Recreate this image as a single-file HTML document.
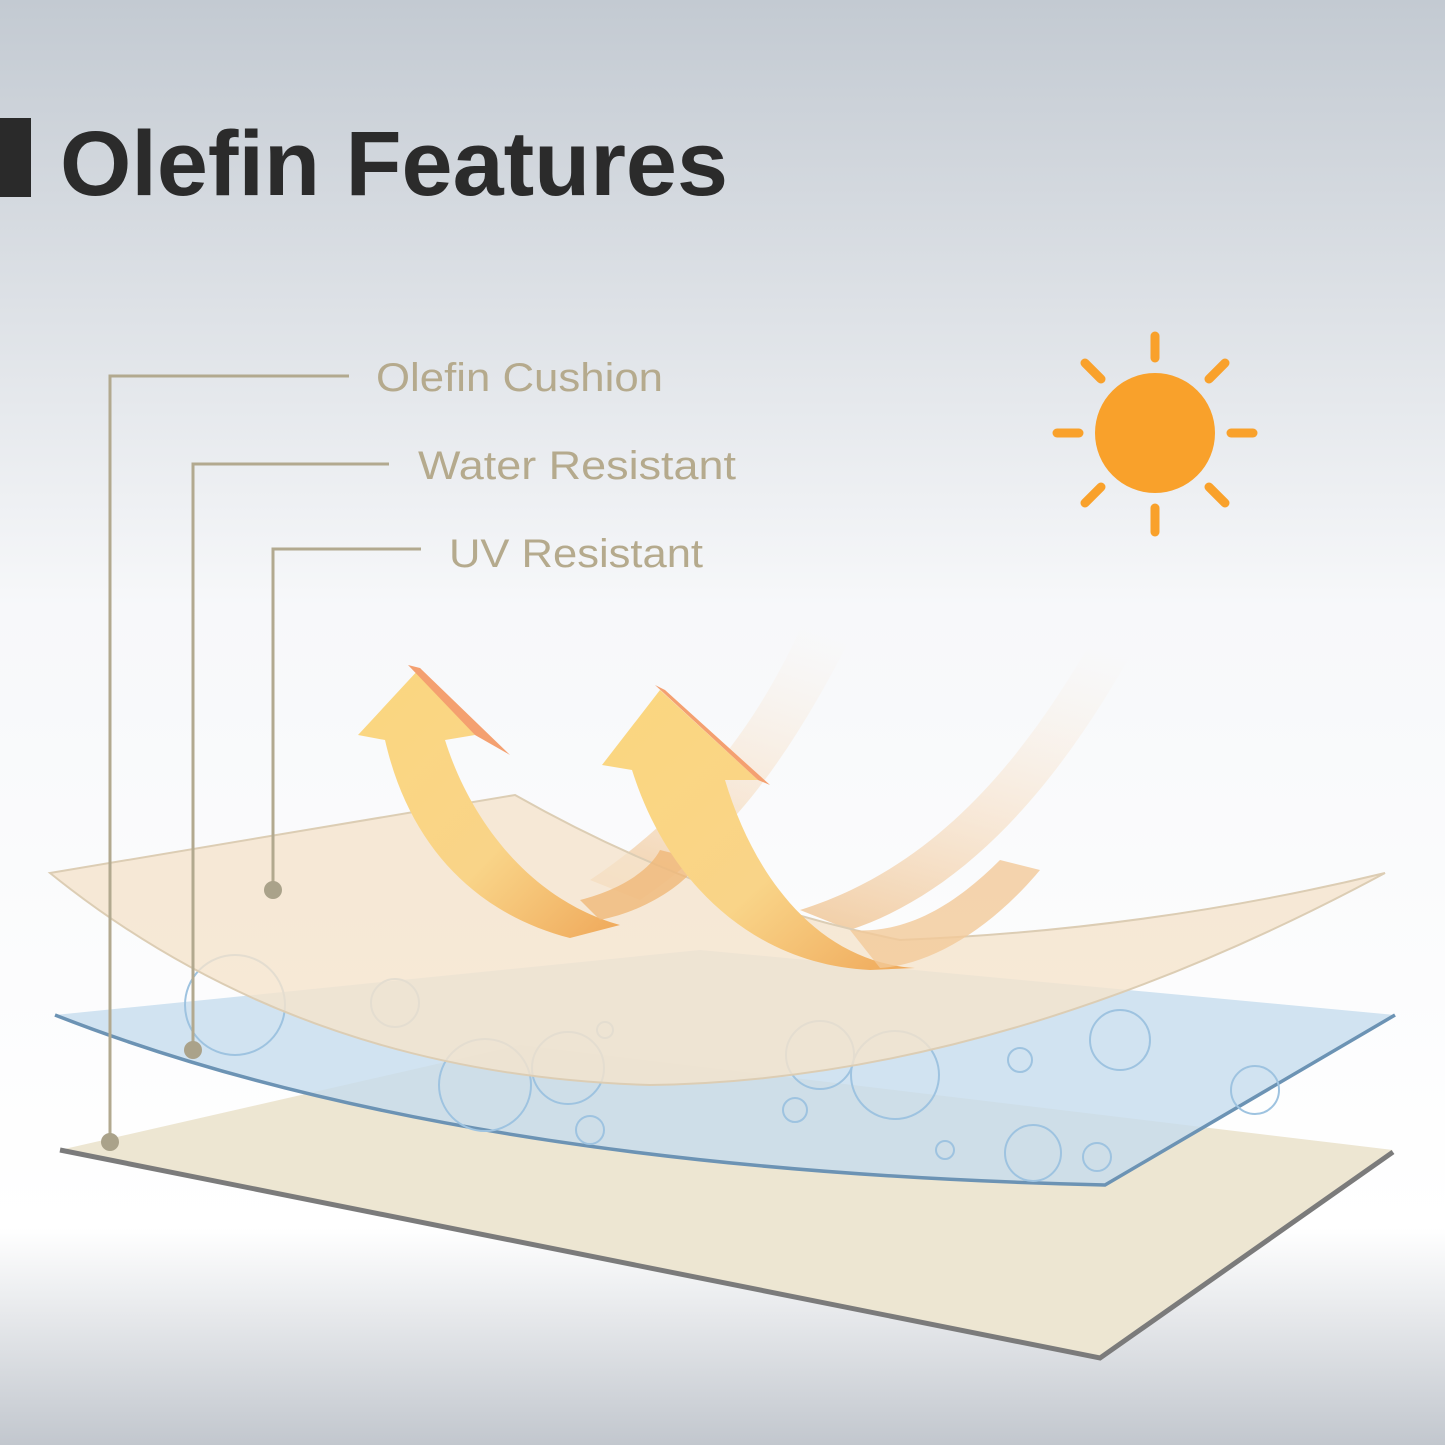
<!DOCTYPE html>
<html><head><meta charset="utf-8"><style>
html,body{margin:0;padding:0;width:1445px;height:1445px;overflow:hidden}
svg{display:block}
</style></head><body>
<svg width="1445" height="1445" viewBox="0 0 1445 1445" xmlns="http://www.w3.org/2000/svg">
<defs>
<linearGradient id="bg" x1="0" y1="0" x2="0" y2="1">
<stop offset="0" stop-color="#c3cad2"/>
<stop offset="0.42" stop-color="#f7f8fa"/>
<stop offset="0.85" stop-color="#ffffff"/>
<stop offset="1" stop-color="#c2c7ce"/>
</linearGradient>
<linearGradient id="streak" x1="0" y1="1" x2="0.3" y2="0">
<stop offset="0" stop-color="#f0c89a" stop-opacity="0.9"/>
<stop offset="1" stop-color="#fbe8d4" stop-opacity="0"/>
</linearGradient>
<linearGradient id="arr" x1="0" y1="0" x2="1" y2="1">
<stop offset="0" stop-color="#fbd77f"/>
<stop offset="0.6" stop-color="#f9d488"/>
<stop offset="1" stop-color="#efa85a"/>
</linearGradient>
</defs>
<rect width="1445" height="1445" fill="url(#bg)"/>

<rect x="0" y="118" width="31" height="79" fill="#2a2a2a"/>
<text x="60" y="195" font-family="Liberation Sans, sans-serif" font-weight="bold" font-size="92" fill="#2b2b2b" textLength="668" lengthAdjust="spacingAndGlyphs">Olefin Features</text>

<path d="M640,900 C760,820 820,700 880,580 L820,580 C780,690 710,800 590,880 Z" fill="url(#streak)"/>
<path d="M850,930 C1000,880 1100,720 1165,590 L1120,590 C1050,720 960,860 800,910 Z" fill="url(#streak)"/>

<polygon points="60,1150 520,1045 1393,1150 1100,1358" fill="#ede6d2"/>
<polyline points="60,1150 1100,1358 1393,1152" fill="none" stroke="#7b7b7b" stroke-width="5"/>

<path d="M55,1015 L700,950 L1395,1015 L1105,1185 Q450,1170 55,1015 Z" fill="#c6dcee" fill-opacity="0.8"/>
<path d="M55,1015 Q450,1170 1105,1185 L1395,1015" fill="none" stroke="#6c93b4" stroke-width="3.5"/>
<g fill="none" stroke="#9ec3e0" stroke-width="2">
<circle cx="485" cy="1085" r="46"/><circle cx="568" cy="1068" r="36"/><circle cx="895" cy="1075" r="44"/>
<circle cx="820" cy="1055" r="34"/><circle cx="1033" cy="1153" r="28"/><circle cx="395" cy="1003" r="24"/>
<circle cx="235" cy="1005" r="50"/><circle cx="1120" cy="1040" r="30"/><circle cx="1255" cy="1090" r="24"/>
<circle cx="590" cy="1130" r="14"/><circle cx="795" cy="1110" r="12"/><circle cx="1097" cy="1157" r="14"/>
<circle cx="945" cy="1150" r="9"/><circle cx="1020" cy="1060" r="12"/><circle cx="605" cy="1030" r="8"/>
</g>

<path d="M50,873 L515,795 Q700,900 900,940 Q1150,930 1385,873 Q1000,1080 650,1085 Q300,1075 50,873 Z" fill="#f5e4cc" fill-opacity="0.8" stroke="#dccdb4" stroke-width="2"/>

<path d="M620,925 C530,900 470,820 445,740 L475,735 L420,668 L358,735 L385,740 C410,850 480,915 570,938 Z" fill="url(#arr)"/>
<polygon points="408,665 420,668 510,755 475,735" fill="#f4a070"/>
<path d="M600,920 C650,910 690,880 700,860 L660,850 C650,870 620,890 580,900 Z" fill="#f0b878" opacity="0.8"/>
<path d="M915,968 C820,962 755,880 725,780 L758,780 L660,690 L602,765 L632,770 C670,890 760,965 870,970 Z" fill="url(#arr)"/>
<polygon points="655,685 665,690 770,785 758,780" fill="#f4a070"/>
<path d="M850,930 C910,935 960,900 1000,860 L1040,870 C990,930 930,965 880,968 Z" fill="#f3c999" opacity="0.8"/>

<g stroke="#b2a98f" stroke-width="3" fill="none">
<polyline points="349,376 110,376 110,1142"/>
<polyline points="389,464 193,464 193,1050"/>
<polyline points="421,549 273,549 273,890"/>
</g>
<g fill="#aaa28a"><circle cx="110" cy="1142" r="9"/><circle cx="193" cy="1050" r="9"/><circle cx="273" cy="890" r="9"/></g>
<g font-family="Liberation Sans, sans-serif" font-size="40" fill="#b5aa8d">
<text x="376" y="391" textLength="287" lengthAdjust="spacingAndGlyphs">Olefin Cushion</text>
<text x="418" y="479" textLength="318" lengthAdjust="spacingAndGlyphs">Water Resistant</text>
<text x="449" y="567" textLength="254" lengthAdjust="spacingAndGlyphs">UV Resistant</text>
</g>

<circle cx="1155" cy="433" r="60" fill="#f9a12b"/>
<g stroke="#f9a12b" stroke-width="9" stroke-linecap="round">
<line x1="1155" y1="336" x2="1155" y2="358"/><line x1="1155" y1="508" x2="1155" y2="532"/>
<line x1="1057" y1="433" x2="1079" y2="433"/><line x1="1231" y1="433" x2="1253" y2="433"/>
<line x1="1085" y1="363" x2="1101" y2="379"/><line x1="1209" y1="487" x2="1225" y2="503"/>
<line x1="1225" y1="363" x2="1209" y2="379"/><line x1="1101" y1="487" x2="1085" y2="503"/>
</g>
</svg>
</body></html>
